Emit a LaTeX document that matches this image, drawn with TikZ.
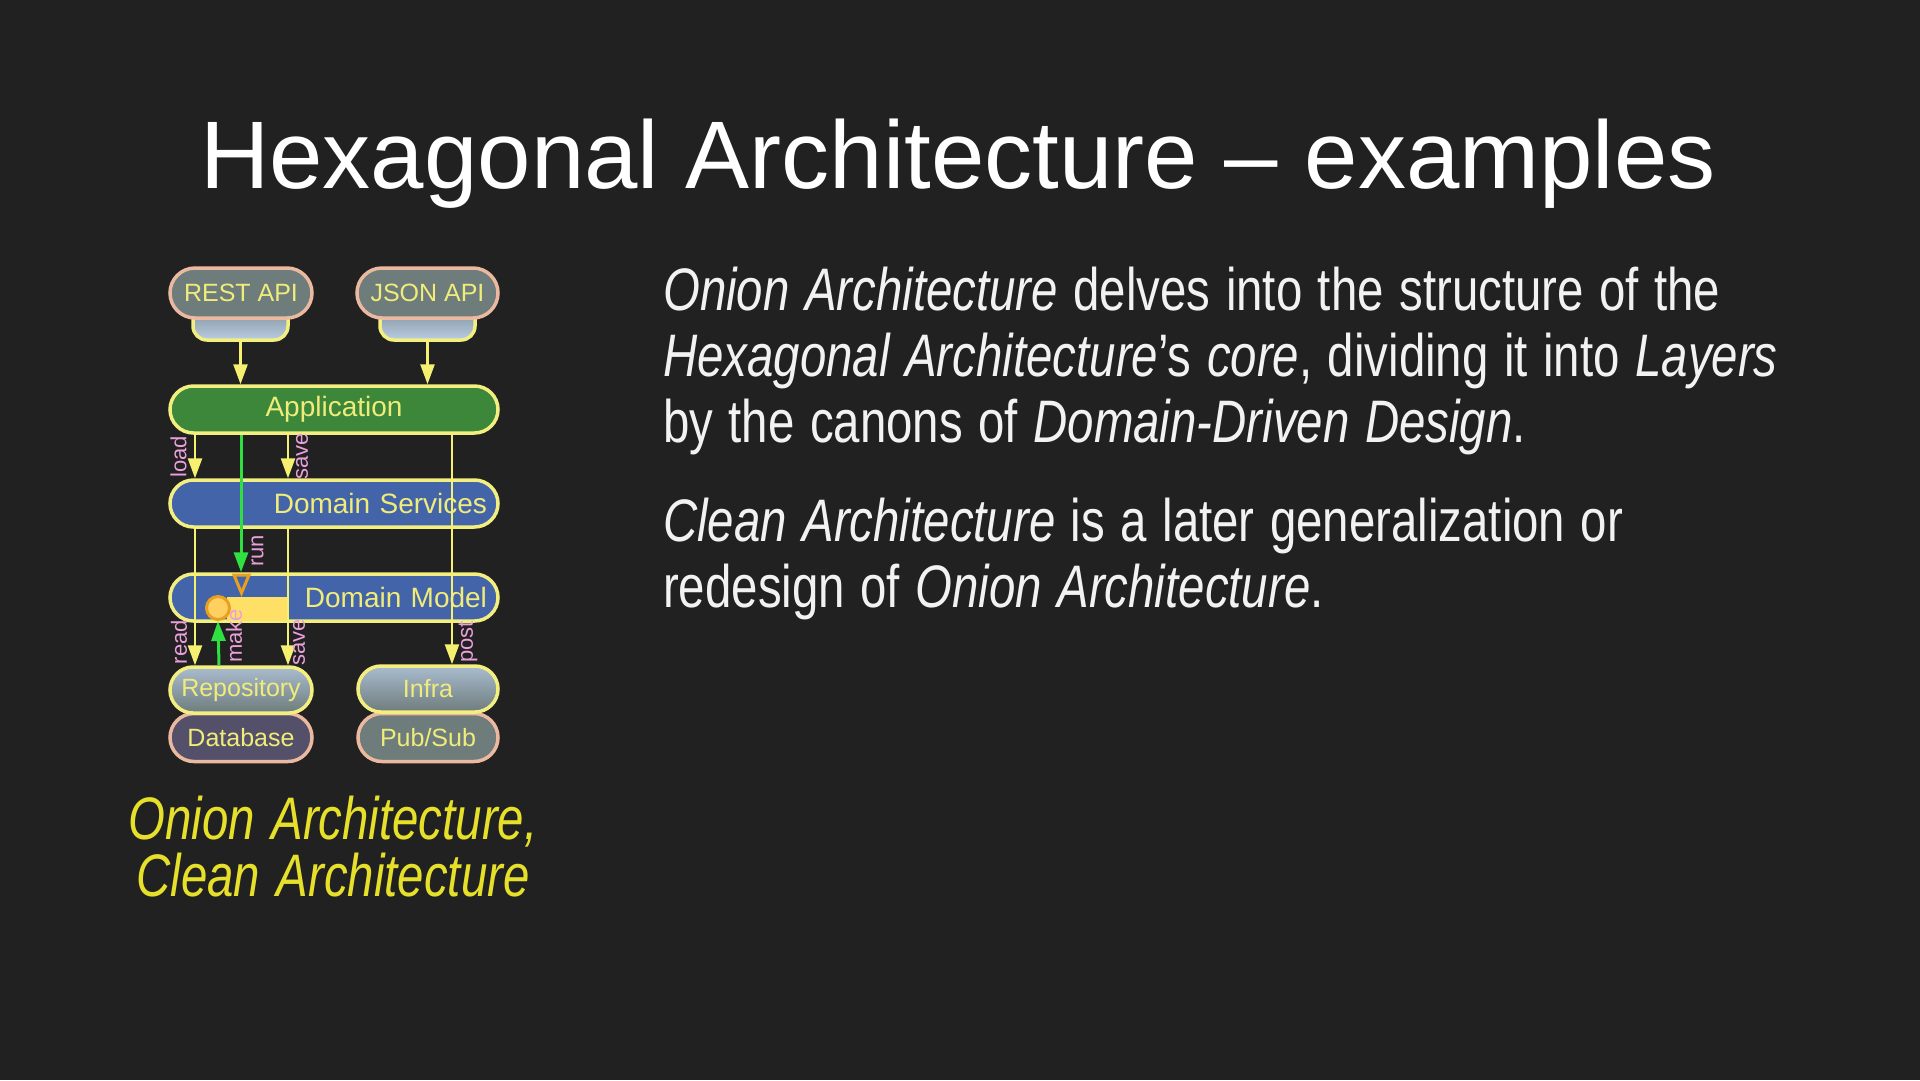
\documentclass[tikz,border=0pt]{standalone}
\usepackage{fontspec}
\setmainfont{Liberation Sans}
\newfontfamily\bodyfont[FakeStretch=0.79]{Liberation Sans}
\usetikzlibrary{arrows.meta}
\definecolor{bg}{HTML}{212121}
\definecolor{txt}{HTML}{F2F2F2}
\definecolor{capyellow}{HTML}{E6E02A}
\definecolor{pilltext}{HTML}{F0EC7A}
\definecolor{ybord}{HTML}{F2EE80}
\definecolor{salmon}{HTML}{EBB8A0}
\definecolor{appgreen}{HTML}{3C873A}
\definecolor{dblue}{HTML}{4464AA}
\definecolor{pgrey}{HTML}{6E7C7C}
\definecolor{dbfill}{HTML}{555069}
\definecolor{lblue}{HTML}{B8CCE4}
\definecolor{rectyellow}{HTML}{FFE066}
\definecolor{orng}{HTML}{E8A020}
\definecolor{lorng}{HTML}{FFD060}
\definecolor{garrow}{HTML}{30E040}
\definecolor{yline}{HTML}{F5F070}
\definecolor{lblpink}{HTML}{EBA0DC}
\tikzset{
  pillbase/.style={rectangle, line width=3.5pt, inner sep=0pt, text=pilltext},
  smallpill/.style={pillbase, minimum width=#1, font=\fontsize{25}{25}\selectfont},
  outerpill/.style={draw=salmon, fill=pgrey, minimum height=50pt, rounded corners=25pt},
  layer/.style={pillbase, draw=ybord, minimum width=328pt, minimum height=47pt, rounded corners=23.5pt, font=\fontsize{28}{28}\selectfont},
  rlayer/.style={layer, text width=306pt, align=right},
  tabbox/.style={rectangle, draw=ybord, line width=3.5pt, minimum width=95pt, minimum height=44pt, rounded corners=14pt, inner sep=0pt,
    top color=pgrey, middle color=pgrey, bottom color=lblue},
  adapter/.style={draw=ybord, minimum height=46pt, rounded corners=23pt, top color=lblue!80!pgrey, middle color=pgrey, bottom color=pgrey},
  store/.style={draw=salmon, minimum height=48pt, rounded corners=24pt},
  yarr/.style={draw=yline, line width=2.5pt, -{Triangle[length=20pt,width=14pt]}},
  garr/.style={draw=garrow, line width=3pt, -{Triangle[length=20pt,width=14pt]}},
  lbl/.style={rotate=90, text=lblpink, inner sep=0pt, font=\fontsize{22}{22}\selectfont},
  bodytext/.style={anchor=base west, inner sep=0pt, text width=1250pt, align=left, text=txt,
    font=\bodyfont\fontsize{60}{66}\selectfont,
    execute at begin node={\spaceskip=15.5pt plus 2pt minus 2pt\relax}},
  captext/.style={anchor=base, inner sep=0pt, text width=600pt, align=center, text=capyellow,
    font=\bodyfont\itshape\fontsize{60}{57}\selectfont,
    execute at begin node={\spaceskip=15pt plus 2pt minus 2pt\relax}},
}
\begin{document}
\begin{tikzpicture}[x=1pt,y=-1pt]
\fill[bg] (0,0) rectangle (1920,1080);
\useasboundingbox (0,0) rectangle (1920,1080);

% title
\node[anchor=base, inner sep=0pt, text=white, font=\fontsize{96}{110}\selectfont] (title) at (958,188) {Hexagonal Architecture – examples};

% body text
\node[bodytext] (para1) at (663,310.5)
 {\textit{Onion Architecture} delves into the structure of the\\
  \textit{Hexagonal Architecture}’s \textit{core}, dividing it into \textit{Layers}\\
  by the canons of \textit{Domain-Driven Design}.};
\node[bodytext] (para2) at (663,541.5)
 {\textit{Clean Architecture} is a later generalization or\\
  redesign of \textit{Onion Architecture}.};

% caption
\node[captext] (caption) at (333,839)
 {Onion Architecture,\\Clean Architecture};

% diagram: ports
\node[tabbox] (resttab) at (240.5,318) {};
\node[tabbox] (jsontab) at (427.5,318) {};
\node[smallpill=142pt, outerpill] (rest) at (241,293) {REST API};
\node[smallpill=141pt, outerpill] (json) at (427.5,293) {JSON API};

% layers
\node[layer, fill=appgreen] (app) at (334,409.5) {Application};
\node[rlayer, fill=dblue] (ds) at (334,503.5) {Domain Services};
\node[rlayer, fill=dblue] (dm) at (334,597.5) {Domain Model};

% adapters and stores
\node[smallpill=142pt, store, fill=dbfill] (db) at (241,737.5) {Database};
\node[smallpill=140pt, store, fill=pgrey] (pubsub) at (428,737.5) {Pub/Sub};
\node[smallpill=142pt, adapter] (repo) at (241,690) {Repository};
\node[smallpill=140pt, adapter] (infra) at (428,689) {Infra};

% factory box inside domain model
\node[rectangle, fill=rectyellow, minimum width=62pt, minimum height=24pt, inner sep=0pt] (factory) at (258,609) {};

% column coordinates
\coordinate (xL) at (195,0);
\coordinate (xS) at (288,0);
\coordinate (xG) at (241,0);
\coordinate (xM) at (219,0);
\coordinate (xR) at (452,0);

% connectors
\draw[yarr] (resttab.south) -- (resttab.south |- app.north);
\draw[yarr] (jsontab.south) -- (jsontab.south |- app.north);
\draw[yarr] (xL |- app.south) -- (xL |- ds.north);
\draw[yarr] (xS |- app.south) -- (xS |- ds.north);
\draw[yarr] (xL |- ds.south) -- (xL |- repo.north);
\draw[yarr] (xS |- ds.south) -- (xS |- repo.north);
\draw[yarr] (xR |- app.south) -- (xR |- infra.north);
\draw[garr] (xG |- app.south) -- (xG |- dm.north);

% entity circle and run marker
\node[circle, draw=orng, fill=lorng, line width=3pt, minimum size=23pt, inner sep=0pt] (entity) at (218,608) {};
\draw[orng, line width=3pt, line join=miter] (234,575) -- (249,575) -- (241.5,593) -- cycle;
\draw[garr] (xM |- repo.north) -- (entity.south);

% labels
\node[lbl] (lload) at (178.5,457) {load};
\node[lbl] (lsave1) at (302,456) {save};
\node[lbl] (lrun) at (257.5,551) {run};
\node[lbl] (lread) at (179,642) {read};
\node[lbl] (lmake) at (234,636) {make};
\node[lbl] (lsave2) at (299,642) {save};
\node[lbl] (lpost) at (468,642) {post};
\end{tikzpicture}
\end{document}
